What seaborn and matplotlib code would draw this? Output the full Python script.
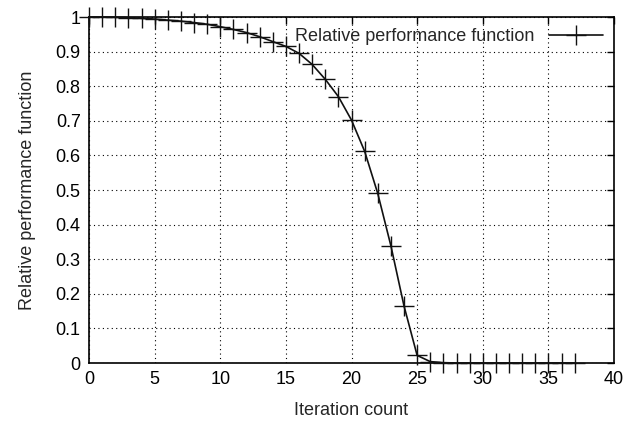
import matplotlib
matplotlib.use("Agg")
import matplotlib.pyplot as plt
import seaborn as sns
import pandas as pd

iterations = list(range(0, 38))
performance = [1.0, 1.0, 0.999, 0.998, 0.996, 0.994, 0.991, 0.988, 0.984, 0.979,
               0.972, 0.964, 0.955, 0.943, 0.929, 0.915, 0.895, 0.863, 0.82, 0.77,
               0.702, 0.612, 0.49, 0.339, 0.165, 0.022, 0.004, 0.001, 0.0, 0.0,
               0.0, 0.0, 0.0, 0.0, 0.0, 0.0, 0.0, 0.0]
series_name = "Relative performance function"
x_ticks = [0, 5, 10, 15, 20, 25, 30, 35, 40]
y_ticks = [0, 0.1, 0.2, 0.3, 0.4, 0.5, 0.6, 0.7, 0.8, 0.9, 1]
y_tick_labels = ["0", "0.1", "0.2", "0.3", "0.4", "0.5", "0.6", "0.7", "0.8", "0.9", "1"]

sns.set_style("white")
plt.rcParams['font.family'] = ['Liberation Sans', 'DejaVu Sans']

df = pd.DataFrame({"x": iterations, "y": performance, "s": series_name})

fig = plt.figure(figsize=(6.27, 4.23), dpi=100)
ax = fig.add_axes([89/627, 1-363/423, (614-89)/627, (363-17)/423])
sns.lineplot(data=df, x="x", y="y", hue="s", palette=["#111111"], marker="+",
             markersize=14, markeredgewidth=1.0, linewidth=1.2, ax=ax)
for ln in ax.lines:
    ln.set_markeredgecolor("#111111")
    ln.set_markerfacecolor("#111111")
    ln.set_clip_on(False)
    ln.set_zorder(3)

ax.set_xlim(0, 40)
ax.set_ylim(0, 1)
ax.set_xticks(x_ticks)
ax.set_yticks(y_ticks)
ax.set_yticklabels(y_tick_labels)
ax.tick_params(direction="in", length=5, width=1, top=True, right=True,
               labelsize=13, colors="black", pad=6)
ax.grid(True, linestyle=(0, (1, 3)), color="black", linewidth=0.8)
for sp in ax.spines.values():
    sp.set_color("black")
    sp.set_linewidth(1.2)
ax.set_xlabel("Iteration count", fontsize=13, labelpad=10)
ax.set_ylabel("Relative performance function", fontsize=13, labelpad=14)

leg = ax.legend(loc="upper right", frameon=False, markerfirst=False, fontsize=13,
                handlelength=3.0, borderaxespad=0.2)
for h in leg.legend_handles:
    h.set_markersize(14)
    h.set_markeredgecolor("#111111")
    h.set_markeredgewidth(1.0)

fig.savefig("out.png", dpi=100)
